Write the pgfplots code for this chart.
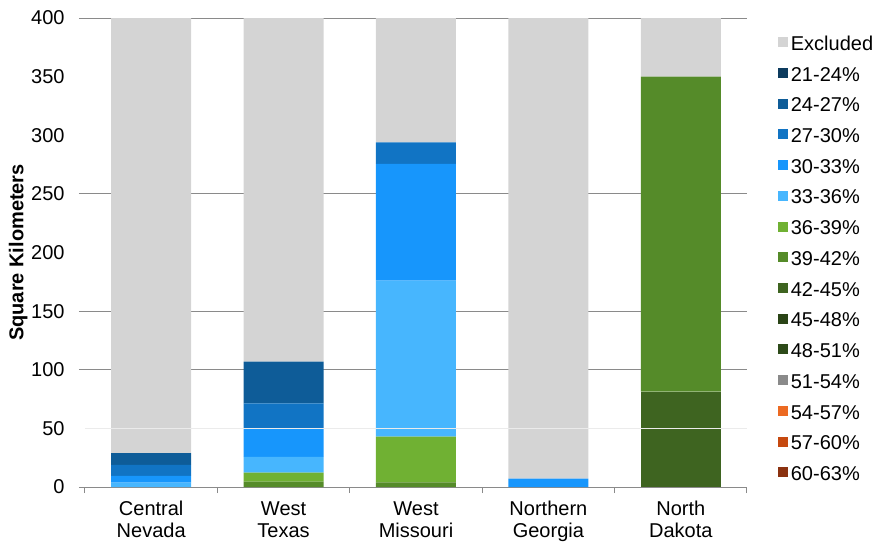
\documentclass[border=0pt]{standalone}
\usepackage{pgfplots}
\usepackage{pgfplotstable}
\pgfplotsset{compat=1.18}
\usepackage{fontspec}
\setmainfont{Liberation Sans}

\definecolor{c2124}{HTML}{0D3B5E}
\definecolor{c2427}{HTML}{0E5C98}
\definecolor{c2730}{HTML}{1174C4}
\definecolor{c3033}{HTML}{1796FC}
\definecolor{c3336}{HTML}{47B6FE}
\definecolor{c3639}{HTML}{70B133}
\definecolor{c3942}{HTML}{558B29}
\definecolor{c4245}{HTML}{3E6420}
\definecolor{c4548}{HTML}{2A4416}
\definecolor{c4851}{HTML}{2D4A19}
\definecolor{c5154}{HTML}{8A8A8A}
\definecolor{c5457}{HTML}{EC6A22}
\definecolor{c5760}{HTML}{C6490F}
\definecolor{c6063}{HTML}{8B3210}
\definecolor{cexcl}{HTML}{D4D4D4}
\definecolor{cgrid}{HTML}{8A8A8A}

% area (square kilometers) per efficiency class, one row per region
\pgfplotstableread{
x p6063 p5760 p5457 p5154 p4851 p4548 p4245 p3942 p3639 p3336 p3033 p2730 p2427 p2124 excl
0 0 0 0 0 0 0 0    0     0    3.7   5.7  9.4  10.2 0 371.0
1 0 0 0 0 0 0 0    4.5   7.7  13.6  23.7 21.9 35.5 0 293.1
2 0 0 0 0 0 0 0    4.0   38.9 133.1 99.5 18.5 0    0 106.0
3 0 0 0 0 0 0 0    0     0    0     7.2  0    0    0 392.8
4 0 0 0 0 0 0 81.3 268.7 0    0     0    0    0    0 50.0
}\areatable

\newcommand{\stackbar}[2]{%
  \addplot[fill=#1, draw=none] table[x=x, y=#2] {\areatable};}

\begin{document}
\begin{tikzpicture}
\useasboundingbox (-42.5pt,-27.5pt) rectangle (394.5pt,243.5pt);
\begin{axis}[
  at={(0,0)}, anchor=south west,
  scale only axis, width=331pt, height=234.5pt,
  xmin=-0.5, xmax=4.5, ymin=0, ymax=400,
  ybar stacked, bar width=40pt,
  axis line style={draw=none},
  tick pos=left,
  font=\fontsize{10}{11}\selectfont,
  /pgf/number format/assume math mode=true,
  major tick length=0pt,
  xtick={0,1,2,3,4},
  xticklabels={{Central\\Nevada},{West\\Texas},{West\\Missouri},{Northern\\Georgia},{North\\Dakota}},
  xticklabel style={align=center, font=\fontsize{10}{11}\selectfont, inner sep=0pt, yshift=-7pt},
  ytick={0,50,...,400},
  yticklabel style={anchor=east, inner sep=0pt, xshift=-10pt},
  extra x ticks={-0.5,0.5,1.5,2.5,3.5,4.5},
  extra x tick labels={},
  extra x tick style={major tick length=3pt, tick align=outside, tick style={draw=cgrid, line width=0.5pt}},
  extra y ticks={0,100,150,250,400},
  extra y tick labels={},
  extra y tick style={major tick length=3pt, tick align=outside, grid=major,
    major grid style={draw=cgrid, line width=0.5pt},
    tick style={draw=cgrid, line width=0.5pt}},
  ylabel={\bfseries Square Kilometers},
  every axis y label/.style={at={(axis description cs:-0.101,0.5)}, rotate=90, anchor=center},
  reverse legend,
  legend image code/.code={\fill[#1, draw=none] (0pt,-1.2pt) rectangle (5pt,3.8pt);},
  legend cell align=left,
  legend style={at={(axis description cs:1.0468,0.9638)}, anchor=north west,
    draw=none, fill=none, inner sep=0pt, row sep=5.86pt,
    font=\fontsize{10}{11}\selectfont,
    nodes={inner xsep=1.25pt, inner ysep=0pt, text height=7.5pt, text depth=2pt}},
]
\draw[black!8, line width=0.5pt] (axis cs:-0.5,50) -- (axis cs:4.5,50);
\stackbar{c6063}{p6063}
\stackbar{c5760}{p5760}
\stackbar{c5457}{p5457}
\stackbar{c5154}{p5154}
\stackbar{c4851}{p4851}
\stackbar{c4548}{p4548}
\stackbar{c4245}{p4245}
\stackbar{c3942}{p3942}
\stackbar{c3639}{p3639}
\stackbar{c3336}{p3336}
\stackbar{c3033}{p3033}
\stackbar{c2730}{p2730}
\stackbar{c2427}{p2427}
\stackbar{c2124}{p2124}
\stackbar{cexcl}{excl}
\legend{60-63\%,57-60\%,54-57\%,51-54\%,48-51\%,45-48\%,42-45\%,39-42\%,36-39\%,33-36\%,30-33\%,27-30\%,24-27\%,21-24\%,Excluded}
\end{axis}
\end{tikzpicture}
\end{document}
